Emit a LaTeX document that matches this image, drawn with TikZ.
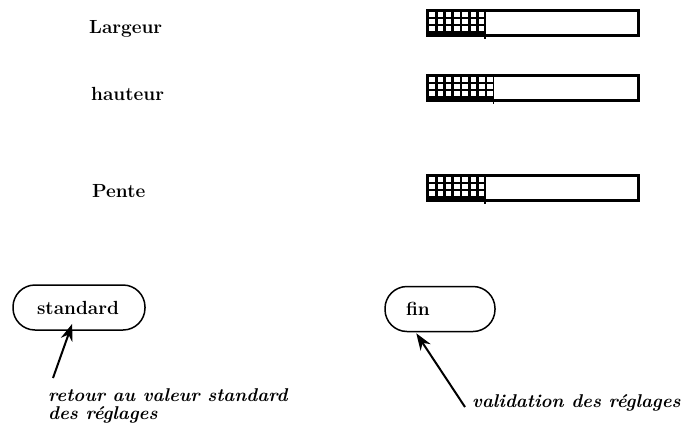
\documentclass[tikz,border=0pt]{standalone}
\usetikzlibrary{arrows.meta}
\begin{document}
\begin{tikzpicture}[x=1pt,y=-1pt,
  lab/.style={font=\fontsize{19}{22}\selectfont\bfseries, inner sep=0pt, anchor=base west},
  bar/.style={draw, line width=1.8pt, minimum width=210pt, minimum height=24pt, inner sep=0pt},
  btn/.style={draw, line width=1.5pt, rounded corners=22pt, minimum height=45pt, align=left,
    font=\fontsize{19}{22}\selectfont\bfseries},
  note/.style={font=\fontsize{18.5}{18}\selectfont\bfseries\itshape, inner sep=0pt, align=left},
  arr/.style={line width=2pt, -{Stealth[length=17pt,width=12pt]}}]
\useasboundingbox (0,0) rectangle (685,434);

\node[lab] (largeur) at (89,33) {Largeur};
\node[lab] (hauteur) at (91,100) {hauteur};
\node[lab] (pente) at (92,197) {Pente};

\foreach \nm/\yy/\nc in {lb/10/7,hb/75/8,pb/175/7}{
  \node[bar, anchor=north west] (\nm) at (427,\yy) {};
  \pgfmathsetmacro\xe{427+\nc*8.3}
  \fill (427,\yy) rectangle (\xe,\yy+24);
  \foreach \i in {1,...,\nc}{
    \foreach \j in {0,1,2}{
      \fill[white] ({427+(\i-1)*8.3+2.2},{\yy+2.4+\j*7.0}) rectangle ++(5.6,5);
    }
  }
  \draw[line width=1.8pt] (\nm.north west) rectangle (\nm.south east);
  \draw[line width=1.5pt] (\xe,\yy) -- (\xe,\yy+29);
}

\node[btn, minimum width=132pt, inner xsep=24pt, text width=84pt] (std) at (79,307.5) {standard};
\node[btn, minimum width=110pt, inner xsep=21pt, text width=68pt] (fin) at (440,309) {fin};

\node[note, anchor=north west] (n1) at (48,388) {retour au valeur standard\\des réglages};
\node[note, anchor=north west] (n2) at (472,394) {validation des réglages};

\coordinate (t1) at (53,378);
\coordinate (t2) at (465,407);
\draw[arr] (t1) -- ([shift={(60,-7)}]std.south west);
\draw[arr] (t2) -- ([shift={(32,1)}]fin.south west);
\end{tikzpicture}
\end{document}
